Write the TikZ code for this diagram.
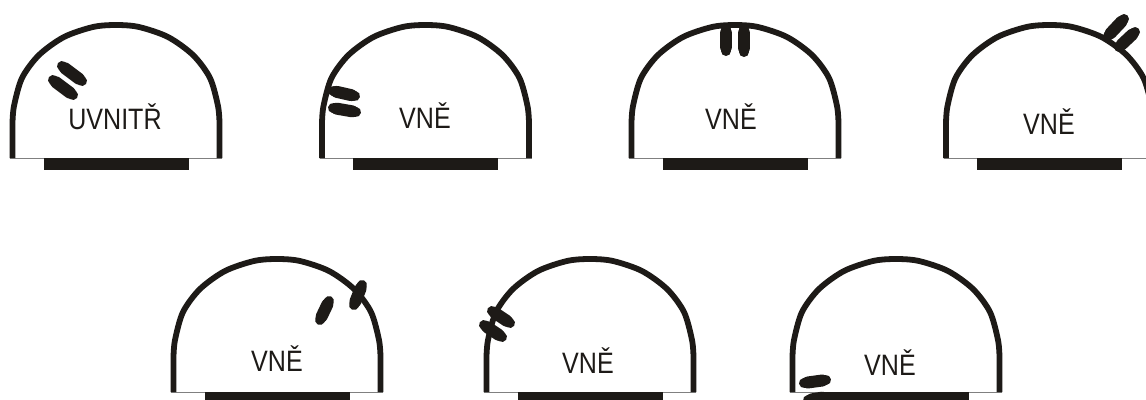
\documentclass[tikz,border=0pt]{standalone}
\usepackage{fontspec}
\setmainfont[FakeStretch=0.85]{Liberation Sans}
\definecolor{ink}{HTML}{1D1A17}
\tikzset{
  wall/.style={draw=ink,line width=5.8pt,line join=round},
  baseline/.style={draw=gray,line width=0.9pt},
  barfill/.style={fill=ink},
  blob/.style={draw=ink,line width=10pt,line cap=round},
  blobcore/.style={draw=ink,line width=12pt,line cap=round,shorten >=4pt,shorten <=4pt},
  lab/.style={anchor=base,inner sep=0pt,font=\fontsize{29.5}{30}\selectfont,text=ink}
}
% #1 centre x, #2 base y
\newcommand{\domeshape}[2]{%
  \begin{scope}[shift={(#1,#2)}]
  \draw[baseline] (-106,0) -- (106,0);
  \fill[barfill] (-72.5,0) rectangle (72.5,12);
  \draw[wall] (-103.5,0) -- (-103.5,-35)
    plot[smooth,tension=0.5] coordinates {(-103.5,-35) (-102,-52) (-94,-80) (-77,-103) (-52,-121) (-23,-131) (0,-133) (23,-131) (52,-121) (77,-103) (94,-80) (102,-52) (103.5,-35)}
    -- (103.5,0);
  \end{scope}
}
\newcommand{\pill}[2]{%
  \draw[blob] #1 -- #2;
  \draw[blobcore] #1 -- #2;
}
\begin{document}
\begin{tikzpicture}[x=1pt,y=-1pt]
\useasboundingbox (0,0) rectangle (1146,399);
\clip (0,0) rectangle (1146,399);
\fill[white] (0,0) rectangle (1146,399);
\domeshape{116}{158}
\domeshape{425.5}{158}
\domeshape{735}{158}
\domeshape{1049.5}{158}
\domeshape{277}{392}
\domeshape{590}{392}
\domeshape{896}{392}
% labels
\node[lab] (t1) at (115,129) {UVNITŘ};
\node[lab] (t2) at (425,128) {VNĚ};
\node[lab] (t3) at (731,129) {VNĚ};
\node[lab] (t4) at (1049,134) {VNĚ};
\node[lab] (t5) at (277,371) {VNĚ};
\node[lab] (t6) at (588,373) {VNĚ};
\node[lab] (t7) at (890,375) {VNĚ};
% antibody pairs
\pill{(62,66)}{(82,81)}
\pill{(53,80)}{(73,95)}
\pill{(333,91)}{(355,96)}
\pill{(333,108)}{(356,112)}
\pill{(726,29)}{(726,51)}
\pill{(744,29)}{(744,52)}
\pill{(1108,36)}{(1124,19)}
\pill{(1119,47)}{(1135,32)}
\pill{(354,305)}{(362,285)}
\pill{(320,320)}{(329,301)}
\pill{(492,311)}{(510,323)}
\pill{(484,325)}{(502,337)}
\pill{(804,383)}{(826,380)}
\pill{(808,400)}{(826,397)}
\end{tikzpicture}
\end{document}
